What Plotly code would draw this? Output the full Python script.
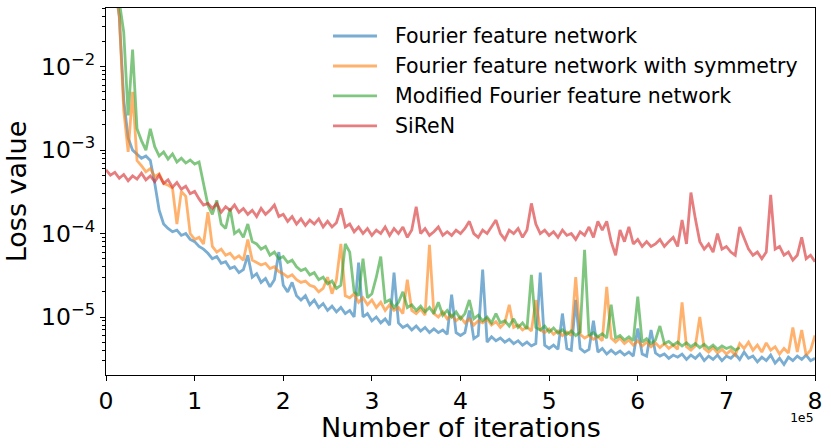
import plotly.graph_objects as go

# iteration grid (every 5000 iterations)
iterations = list(range(0, 800001, 5000))

fourier = [
    0.5, 0.25, 0.1, 4e-2, 4e-3, 1.4e-3, 1.0e-3, 9.0e-4, 8.0e-4, 8.5e-4,
    7.5e-4, 4.0e-4, 1.9e-4, 1.3e-4, 1.15e-4, 1.05e-4, 1.1e-4, 9.5e-5, 1.0e-4, 8.5e-5,
    8.0e-5, 7.0e-5, 6.5e-5, 5.8e-5, 5.0e-5, 5.3e-5, 4.4e-5, 4.6e-5, 3.8e-5, 4.0e-5,
    3.4e-5, 3.7e-5, 5.5e-5, 3.0e-5, 3.3e-5, 2.6e-5, 2.9e-5, 2.3e-5, 2.8e-5, 6.0e-5,
    2.4e-5, 2.0e-5, 2.6e-5, 1.8e-5, 1.6e-5, 1.8e-5, 1.4e-5, 1.6e-5, 1.3e-5, 1.45e-5,
    1.2e-5, 1.35e-5, 1.15e-5, 1.3e-5, 1.1e-5, 1.2e-5, 1.0e-5, 4.5e-5, 1.0e-5, 1.1e-5,
    9.0e-6, 1.0e-5, 8.5e-6, 9.5e-6, 8.0e-6, 3.4e-5, 8.5e-6, 7.5e-6, 8.0e-6, 7.0e-6,
    7.8e-6, 6.8e-6, 7.5e-6, 6.5e-6, 7.2e-6, 6.5e-6, 7.0e-6, 6.2e-6, 1.85e-5, 6.5e-6,
    6.0e-6, 6.5e-6, 1.2e-5, 5.5e-6, 6.0e-6, 3.7e-5, 5.0e-6, 5.8e-6, 5.2e-6, 5.6e-6,
    5.0e-6, 5.4e-6, 4.8e-6, 5.2e-6, 4.6e-6, 5.0e-6, 4.5e-6, 4.8e-6, 3.4e-5, 4.6e-6,
    4.2e-6, 4.6e-6, 4.1e-6, 1.1e-5, 4.2e-6, 4.0e-6, 1.6e-5, 4.2e-6, 3.8e-6, 4.1e-6,
    9.0e-6, 3.8e-6, 4.2e-6, 3.6e-6, 4.0e-6, 3.6e-6, 3.9e-6, 3.5e-6, 3.8e-6, 3.4e-6,
    7.3e-6, 3.6e-6, 3.4e-6, 7.0e-6, 3.7e-6, 3.4e-6, 3.6e-6, 3.2e-6, 3.5e-6, 3.3e-6,
    3.6e-6, 3.1e-6, 3.5e-6, 3.2e-6, 3.6e-6, 3.0e-6, 3.4e-6, 3.1e-6, 3.5e-6, 3.0e-6,
    3.4e-6, 3.2e-6, 3.6e-6, 3.1e-6, 3.8e-6, 3.2e-6, 3.4e-6, 2.9e-6, 3.3e-6, 3.0e-6,
    3.5e-6, 2.8e-6, 3.2e-6, 2.7e-6, 3.3e-6, 3.0e-6, 3.4e-6, 3.1e-6, 3.5e-6, 3.0e-6,
    3.2e-6,
]

fourier_sym = [
    0.5, 0.25, 0.1, 4e-2, 3e-3, 9.5e-4, 5.0e-3, 7.5e-4, 6.5e-4, 5.5e-4,
    6.0e-4, 4.8e-4, 5.2e-4, 4.0e-4, 3.8e-4, 3.5e-4, 1.3e-4, 3.2e-4, 2.8e-4, 1.0e-4,
    8.5e-5, 9.0e-5, 7.5e-5, 1.8e-4, 7.0e-5, 6.0e-5, 6.5e-5, 5.5e-5, 5.8e-5, 5.0e-5,
    5.4e-5, 4.8e-5, 8.5e-5, 4.8e-5, 4.5e-5, 4.2e-5, 4.4e-5, 3.8e-5, 4.0e-5, 3.5e-5,
    3.3e-5, 3.0e-5, 3.2e-5, 2.8e-5, 2.6e-5, 2.7e-5, 2.4e-5, 2.3e-5, 2.0e-5, 2.2e-5,
    3.0e-5, 1.9e-5, 2.8e-5, 7.5e-5, 1.8e-5, 1.7e-5, 1.9e-5, 1.5e-5, 1.7e-5, 1.4e-5,
    1.6e-5, 1.3e-5, 1.5e-5, 1.2e-5, 1.4e-5, 1.2e-5, 1.3e-5, 1.1e-5, 2.8e-5, 1.2e-5,
    1.1e-5, 1.25e-5, 1.05e-5, 7.3e-5, 1.1e-5, 1.0e-5, 1.15e-5, 9.5e-6, 1.05e-5, 9.0e-6,
    1.0e-5, 8.5e-6, 9.5e-6, 8.0e-6, 9.0e-6, 8.5e-6, 9.5e-6, 8.0e-6, 8.8e-6, 7.5e-6,
    8.5e-6, 1.4e-5, 7.5e-6, 8.0e-6, 7.0e-6, 7.6e-6, 6.8e-6, 1.6e-5, 7.0e-6, 6.5e-6,
    7.2e-6, 6.2e-6, 6.8e-6, 6.0e-6, 6.6e-6, 6.0e-6, 3.0e-5, 6.2e-6, 5.6e-6, 6.0e-6,
    5.4e-6, 5.8e-6, 5.2e-6, 2.3e-5, 5.6e-6, 5.0e-6, 5.6e-6, 4.8e-6, 5.3e-6, 4.6e-6,
    5.2e-6, 4.5e-6, 5.0e-6, 4.4e-6, 4.9e-6, 4.3e-6, 4.8e-6, 4.2e-6, 4.6e-6, 4.1e-6,
    1.5e-5, 4.4e-6, 4.0e-6, 4.5e-6, 1.0e-5, 4.2e-6, 3.8e-6, 4.3e-6, 3.7e-6, 4.1e-6,
    3.6e-6, 4.0e-6, 3.5e-6, 4.8e-6, 4.2e-6, 5.0e-6, 4.0e-6, 4.6e-6, 3.8e-6, 4.9e-6,
    4.0e-6, 4.4e-6, 3.6e-6, 4.2e-6, 3.7e-6, 7.5e-6, 3.8e-6, 7.0e-6, 3.5e-6, 4.0e-6,
    6.0e-6,
]

modified = [
    0.5, 0.3, 0.15, 6e-2, 2.6e-2, 2.6e-3, 1.6e-2, 1.8e-3, 1.3e-3, 1.0e-3,
    1.8e-3, 1.1e-3, 8.5e-4, 9.5e-4, 7.8e-4, 9.0e-4, 7.2e-4, 8.0e-4, 7.0e-4, 7.6e-4,
    6.8e-4, 7.2e-4, 4.0e-4, 2.2e-4, 1.7e-4, 2.5e-4, 1.3e-4, 1.15e-4, 2.0e-4, 1.0e-4,
    1.1e-4, 9.0e-5, 1.3e-4, 8.0e-5, 7.5e-5, 6.5e-5, 7.0e-5, 5.5e-5, 6.0e-5, 5.0e-5,
    5.3e-5, 4.5e-5, 4.8e-5, 4.0e-5, 3.6e-5, 3.8e-5, 3.2e-5, 3.4e-5, 2.8e-5, 3.0e-5,
    2.5e-5, 2.7e-5, 2.2e-5, 2.4e-5, 7.5e-5, 6.0e-5, 2.0e-5, 1.8e-5, 5.0e-5, 1.7e-5,
    1.9e-5, 3.0e-5, 5.3e-5, 1.5e-5, 1.6e-5, 1.3e-5, 1.5e-5, 2.0e-5, 1.3e-5, 1.4e-5,
    1.2e-5, 1.35e-5, 1.15e-5, 1.3e-5, 1.1e-5, 1.5e-5, 1.05e-5, 1.2e-5, 1.0e-5, 1.15e-5,
    9.5e-6, 1.1e-5, 1.6e-5, 9.5e-6, 1.05e-5, 9.0e-6, 1.0e-5, 8.5e-6, 1.1e-5, 8.5e-6,
    9.0e-6, 7.8e-6, 9.5e-6, 7.5e-6, 8.5e-6, 7.2e-6, 3.2e-5, 7.5e-6, 7.0e-6, 7.8e-6,
    6.6e-6, 7.4e-6, 6.4e-6, 7.0e-6, 6.2e-6, 6.8e-6, 6.0e-6, 6.6e-6, 6.4e-5, 6.0e-6,
    6.5e-6, 5.8e-6, 6.3e-6, 5.6e-6, 1.4e-5, 5.6e-6, 6.0e-6, 5.3e-6, 5.8e-6, 5.2e-6,
    1.75e-5, 5.0e-6, 5.5e-6, 4.8e-6, 5.3e-6, 7.8e-6, 4.8e-6, 5.1e-6, 4.6e-6, 5.0e-6,
    4.5e-6, 4.9e-6, 4.4e-6, 4.8e-6, 4.3e-6, 4.7e-6, 4.2e-6, 4.6e-6, 4.1e-6, 4.5e-6,
    4.2e-6, 4.4e-6, 4.0e-6, 4.3e-6,
]

siren = [
    5.8e-4, 5.0e-4, 5.4e-4, 4.6e-4, 5.1e-4, 4.3e-4, 4.9e-4, 4.5e-4, 5.3e-4, 4.4e-4,
    4.9e-4, 4.2e-4, 5.0e-4, 4.0e-4, 4.4e-4, 3.6e-4, 4.1e-4, 3.4e-4, 3.7e-4, 3.0e-4,
    3.2e-4, 2.6e-4, 2.2e-4, 2.3e-4, 2.0e-4, 2.3e-4, 1.8e-4, 2.1e-4, 1.9e-4, 2.2e-4,
    1.8e-4, 2.0e-4, 1.7e-4, 1.9e-4, 1.6e-4, 2.0e-4, 1.7e-4, 1.9e-4, 2.2e-4, 1.6e-4,
    1.7e-4, 1.4e-4, 1.6e-4, 1.3e-4, 1.5e-4, 1.25e-4, 1.45e-4, 1.3e-4, 1.5e-4, 1.2e-4,
    1.4e-4, 1.2e-4, 1.35e-4, 2.0e-4, 1.2e-4, 1.3e-4, 1.05e-4, 1.2e-4, 1.0e-4, 1.15e-4,
    9.5e-5, 1.1e-4, 1.0e-4, 1.2e-4, 9.5e-5, 1.15e-4, 1.0e-4, 1.2e-4, 9.0e-5, 1.1e-4,
    2.1e-4, 1.0e-4, 1.15e-4, 9.5e-5, 1.05e-4, 1.2e-4, 9.5e-5, 1.05e-4, 9.5e-5, 1.1e-4,
    1.0e-4, 1.15e-4, 1.4e-4, 1.0e-4, 9.0e-5, 1.1e-4, 1.0e-4, 1.2e-4, 1.45e-4, 1.0e-4,
    8.5e-5, 1.1e-4, 1.0e-4, 1.15e-4, 9.0e-5, 1.1e-4, 2.3e-4, 1.3e-4, 1.0e-4, 1.1e-4,
    9.5e-5, 1.05e-4, 9.0e-5, 1.1e-4, 9.5e-5, 1.0e-4, 8.5e-5, 1.05e-4, 9.5e-5, 1.2e-4,
    9.0e-5, 1.4e-4, 1.1e-4, 1.4e-4, 8.0e-5, 5.5e-5, 1.1e-4, 8.0e-5, 1.2e-4, 7.5e-5,
    8.5e-5, 7.0e-5, 8.0e-5, 7.0e-5, 7.5e-5, 8.5e-5, 7.0e-5, 8.0e-5, 9.0e-5, 7.0e-5,
    1.45e-4, 7.5e-5, 3.1e-4, 1.5e-4, 8.0e-5, 6.5e-5, 7.5e-5, 6.0e-5, 1.0e-4, 6.5e-5,
    7.0e-5, 6.0e-5, 5.5e-5, 1.2e-4, 9.0e-5, 6.5e-5, 5.5e-5, 6.0e-5, 5.0e-5, 6.0e-5,
    2.9e-4, 6.5e-5, 7.0e-5, 5.5e-5, 6.0e-5, 4.8e-5, 5.5e-5, 9.0e-5, 5.0e-5, 5.5e-5,
    4.6e-5,
]

series_names = [
    "Fourier feature network",
    "Fourier feature network with symmetry",
    "Modified Fourier feature network",
    "SiReN",
]
series_values = [fourier, fourier_sym, modified, siren]
series_colors = [
    "rgba(31,119,180,0.6)",
    "rgba(255,127,14,0.6)",
    "rgba(44,160,44,0.6)",
    "rgba(214,39,40,0.6)",
]

x_tickvals = [0, 100000, 200000, 300000, 400000, 500000, 600000, 700000, 800000]
x_ticktext = ["0", "1", "2", "3", "4", "5", "6", "7", "8"]
y_tickvals = [1e-2, 1e-3, 1e-4, 1e-5]
y_ticktext = ["10<sup>\u22122</sup>", "10<sup>\u22123</sup>", "10<sup>\u22124</sup>", "10<sup>\u22125</sup>"]
y_minor = [m * 10.0 ** e for e in range(-6, -1) for m in range(2, 10)]

fig = go.Figure()
for name, vals, col in zip(series_names, series_values, series_colors):
    fig.add_trace(go.Scatter(
        x=iterations[:len(vals)], y=vals, mode="lines", name=name,
        line=dict(color=col, width=2.8), showlegend=False,
    ))

font = "DejaVu Sans"

# legend drawn in paper coordinates (matplotlib-style, frameless)
legend_shapes = []
legend_annots = []
row_top = 0.9237
row_step = 0.0817
for i, (name, col) in enumerate(zip(series_names, series_colors)):
    yp = row_top - i * row_step
    legend_shapes.append(dict(
        type="line", xref="paper", yref="paper", x0=0.3202, x1=0.3822, y0=yp, y1=yp,
        line=dict(color=col, width=2.8),
    ))
    legend_annots.append(dict(
        text=name, xref="paper", yref="paper", x=0.4048, y=yp, xanchor="left", yanchor="middle",
        showarrow=False, font=dict(size=20.5, family=font, color="black"),
    ))

fig.update_layout(
    width=831, height=448,
    margin=dict(l=106, r=16, t=8, b=73),
    paper_bgcolor="white", plot_bgcolor="white",
    font=dict(family=font, color="black"),
    showlegend=False,
    xaxis=dict(
        range=[0, 800000], showgrid=False, zeroline=False,
        showline=True, linecolor="black", linewidth=1.2, mirror=True,
        ticks="outside", ticklen=5, tickwidth=1, tickcolor="black",
        tickvals=x_tickvals, ticktext=x_ticktext,
        tickfont=dict(size=23.5, family=font, color="black"),
    ),
    yaxis=dict(
        type="log", range=[-5.695, -1.297], showgrid=False, zeroline=False,
        showline=True, linecolor="black", linewidth=1.2, mirror=True,
        ticks="outside", ticklen=5, tickwidth=1, tickcolor="black",
        tickvals=y_tickvals, ticktext=y_ticktext,
        tickfont=dict(size=23.5, family=font, color="black"),
        minor=dict(tickvals=y_minor, ticks="outside", ticklen=3, tickwidth=0.8, tickcolor="black", showgrid=False),
        title=dict(text="Loss value", font=dict(size=27, family=font, color="black"), standoff=6),
    ),
    shapes=legend_shapes,
    annotations=legend_annots + [
        dict(
            text="Number of iterations", xref="paper", yref="paper", x=0.5, y=-0.143,
            xanchor="center", yanchor="middle", showarrow=False,
            font=dict(size=27, family=font, color="black"),
        ),
        dict(
            text="1e5", xref="paper", yref="paper", x=1.0, y=-0.09, xanchor="right", yanchor="top",
            showarrow=False, font=dict(size=13, family="DejaVu Sans Mono", color="black"),
        ),
    ],
)

fig.write_html("out.html", config={"displayModeBar": False},
               post_script="document.body.style.margin='0px';")
